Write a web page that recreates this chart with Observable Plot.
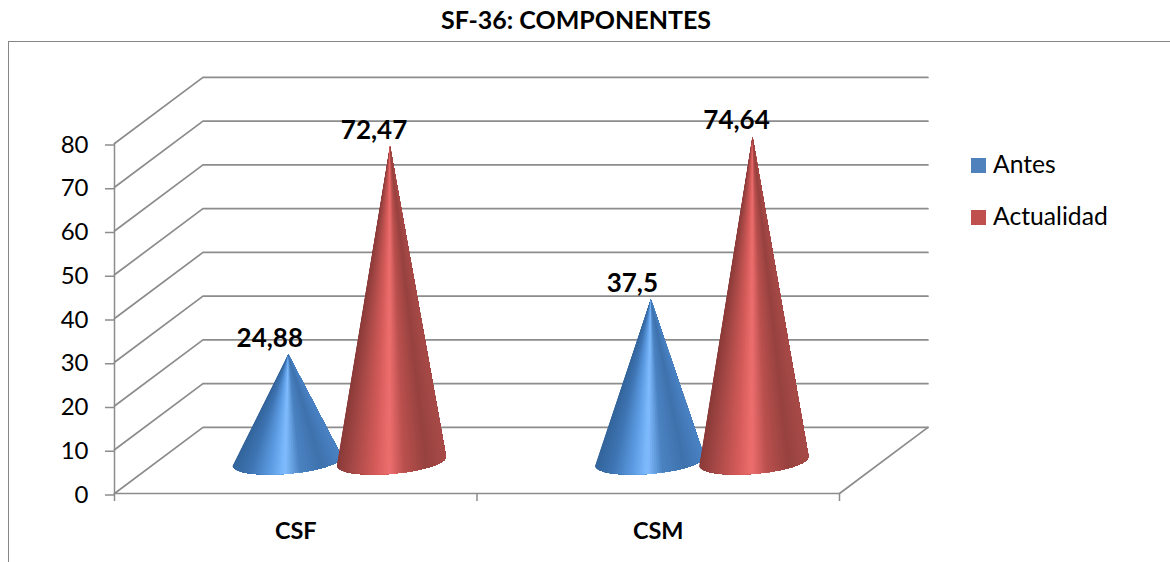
<!DOCTYPE html>
<html>
<head>
<meta charset="utf-8">
<script src="https://cdn.jsdelivr.net/npm/d3@7"></script>
<script src="https://cdn.jsdelivr.net/npm/@observablehq/plot@0.6"></script>
<style>
  html, body { margin: 0; padding: 0; background: #fff; }
  #page { position: relative; width: 1170px; height: 562px; overflow: hidden; font-family: Lato, "Open Sans", sans-serif; color: #000; }
  #title { position: absolute; left: 0; top: 3px; width: 1152px; text-align: center; font-size: 25px; line-height: 32px; font-weight: 700; }
  #frame { position: absolute; left: 8px; top: 41px; width: 1170px; height: 530px; border-left: 1.5px solid #868686; border-top: 1.5px solid #868686; box-sizing: border-box; }
  #chart { position: absolute; left: 0; top: 42px; }
  .lg { position: absolute; left: 971px; display: flex; align-items: center; font-size: 24.7px; line-height: 26px; height: 26px; }
  .lg i { display: block; width: 15px; height: 15px; margin-right: 7px; position: relative; top: 1.5px; }
</style>
</head>
<body>
<div id="page">
  <div id="title">SF-36: COMPONENTES</div>
  <div id="frame"></div>
  <div id="chart"></div>
  <div id="legend"></div>
</div>
<script>
const categories = ["CSF", "CSM"];
const seriesNames = ["Antes", "Actualidad"];
const antes = [24.88, 37.5];
const actualidad = [72.47, 74.64];
const valueLabels = [["24,88", "37,5"], ["72,47", "74,64"]];
const yTicks = [0, 10, 20, 30, 40, 50, 60, 70, 80];
const legendColors = ["#4f81bd", "#c0504d"];
const shades = [
  ["#4a82c4", "#3e72ad", "#4a82c0", "#80bcff", "#5c9be2", "#3f75b4", "#34659c"],
  ["#a84b48", "#97423f", "#b9504e", "#ee6e6e", "#d25a58", "#aa4a48", "#8a3b39"]
];
const shadeStops = [0, 0.18, 0.38, 0.52, 0.66, 0.84, 1];

// chart geometry, in scale units
const depthX = 0.244, depthY = 15.1;   // how far the back wall is shifted
const apexLift = 6.9;                  // where a value's height starts
const rimLift = 7.4;                   // cone base centre above the axis
const seriesOffset = [-0.0235, 0.264]; // cone centre relative to the category band centre
const apexSkew = [0.003, -0.004];      // apex shift relative to the base centre
const coneA = 0.1505;                  // base half width
const coneB = 2.9, coneTilt = 1.03;    // base half height and tilt
const xOf = i => i + 0.5;

const wall = yTicks.flatMap(v => [
  {g: v, x: 0, y: v},
  {g: v, x: depthX, y: v + depthY},
  {g: v, x: 2 + depthX, y: v + depthY}
]);
const floorEdge = [{x: 0, y: 0}, {x: 2, y: 0}, {x: 2 + depthX, y: depthY}];

// Each cone is painted as overlapping fans, left to right, so no seams show.
const slices = [];
const apexes = [];
[antes, actualidad].forEach((vals, s) => {
  const shade = d3.scaleLinear().domain(shadeStops).range(shades[s]).interpolate(d3.interpolateRgb);
  vals.forEach((v, c) => {
    const cx = xOf(c) + seriesOffset[s];
    const apexY = v + apexLift;
    apexes.push({x: cx + 0.003, y: apexY, label: valueLabels[s][c]});
    const N = 70;
    const rim = t => ({
      x: cx + coneA * Math.cos(t),
      y: rimLift + coneTilt * Math.cos(t) - coneB * Math.sin(t)
    });
    for (let k = 0; k < N; k++) {
      const t0 = Math.PI * (1 - k / N);
      const u = (1 - Math.cos(t0 - Math.PI / (2 * N))) / 2;
      const id = `${s}-${c}-${String(k).padStart(3, "0")}`;
      const col = shade(u);
      slices.push({x: cx + apexSkew[s], y: apexY, id, col});
      for (let j = k; j <= N; j++) slices.push({...rim(Math.PI * (1 - j / N)), id, col});
    }
  });
});

const plot = Plot.plot({
  width: 1170,
  height: 520,
  marginLeft: 114,
  marginRight: 331,
  marginTop: 101,
  marginBottom: 69,
  style: {background: "transparent", fontFamily: "Lato, sans-serif", color: "#000", overflow: "visible"},
  x: {domain: [0, 2], axis: null},
  y: {domain: [0, 80], axis: null},
  marks: [
    Plot.line(wall, {x: "x", y: "y", z: "g", stroke: "#8c8c8c", strokeWidth: 1.7}),
    Plot.line(floorEdge, {x: "x", y: "y", stroke: "#8c8c8c", strokeWidth: 1.7}),
    Plot.ruleX([0], {y1: 0, y2: 80, stroke: "#8c8c8c", strokeWidth: 1.5}),
    Plot.axisY({ticks: yTicks, tickSize: 9, tickPadding: 17, fontSize: 24, dy: 1.5, label: null, stroke: "#8c8c8c", strokeWidth: 1.5, color: "#000"}),
    Plot.axisX({ticks: [0, 1, 2], tickSize: 8, tickFormat: () => "", label: null, stroke: "#8c8c8c", strokeWidth: 1.5}),
    Plot.axisX({ticks: [0.5, 1.5], tickSize: 0, tickPadding: 29, tickFormat: d => categories[Math.floor(d)], fontSize: 23.5, fontWeight: 700, label: null, stroke: "none", color: "#000"}),
    Plot.line(slices, {x: "x", y: "y", z: "id", fill: "col", stroke: "none", curve: "linear-closed"}),
    Plot.text(apexes, {x: "x", y: "y", text: "label", dx: -18.5, dy: -16, fontSize: 26, fontWeight: 700, fill: "#000"})
  ]
});
document.getElementById("chart").append(plot);

const legend = document.getElementById("legend");
seriesNames.forEach((name, i) => {
  const row = document.createElement("div");
  row.className = "lg";
  row.style.top = (150.5 + i * 52) + "px";
  const sw = document.createElement("i");
  sw.style.background = legendColors[i];
  row.append(sw, name);
  legend.append(row);
});
</script>
</body>
</html>
